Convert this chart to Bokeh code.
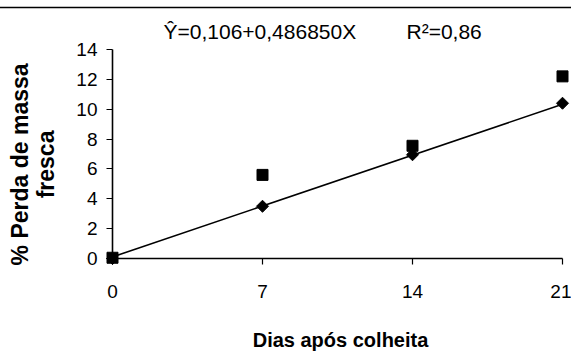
import math
from bokeh.plotting import figure
from bokeh.models import Range1d, FixedTicker
from bokeh.core.properties import value
from bokeh.embed import file_html
from bokeh.resources import INLINE

# ---- data ----
days = [0, 7, 14, 21]
diamond_vals = [0.0, 3.5, 6.95, 10.4]
square_vals = [0.05, 5.6, 7.55, 12.2]
fit_x = [0, 21]
fit_y = [0.106, 10.33]
x_ticks = [0, 7, 14, 21]
y_ticks = [0, 2, 4, 6, 8, 10, 12, 14]
equation = "Ŷ=0,106+0,486850X"
r2_text = "R²=0,86"
x_title = "Dias após colheita"
y_title_lines = ["% Perda de massa", "fresca"]

FONT = "Liberation Sans"
W, H = 571, 352

p = figure(width=W, height=H, x_range=Range1d(0, 21), y_range=Range1d(0, 14),
           output_backend="svg", toolbar_location=None,
           min_border_left=112, min_border_right=9, min_border_top=49, min_border_bottom=94)
p.grid.visible = False
p.outline_line_color = None
p.background_fill_color = "white"
p.border_fill_color = "white"

for ax in (p.xaxis[0], p.yaxis[0]):
    ax.axis_line_color = "black"
    ax.axis_line_width = 1.6
    ax.major_tick_line_color = "black"
    ax.major_tick_line_width = 1.2
    ax.major_tick_in = 0
    ax.major_tick_out = 6
    ax.minor_tick_line_color = None
    ax.major_label_text_font = FONT
    ax.major_label_text_font_size = "19px"
    ax.major_label_text_color = "black"

p.xaxis[0].ticker = FixedTicker(ticks=x_ticks)
p.yaxis[0].ticker = FixedTicker(ticks=y_ticks)
p.xaxis[0].major_label_standoff = 20
p.yaxis[0].major_label_standoff = 9

# rule across the top of the picture
p.segment(x0=[-5.3], y0=[16.81], x1=[21.5], y1=[16.81], line_color="black",
          line_width=1.5, level="overlay")

# regression line and points
p.line(fit_x, fit_y, line_color="black", line_width=1.6, level="overlay")
p.scatter(days, square_vals, marker="square", size=11, fill_color="black",
          line_color="black", level="overlay")
p.scatter(days, diamond_vals, marker="square", angle=math.pi / 4, size=8.5,
          fill_color="black", line_color="black", level="overlay")

# equation texts above the plot area
p.text(x=[2.38, 13.72], y=[15.23, 15.23], text=[equation, r2_text], text_font=value(FONT),
       text_font_size="21px", text_color="black", text_baseline="middle",
       text_align="left", level="overlay")

# axis titles
p.text(x=[10.64], y=[-5.43], text=[x_title], text_font=value(FONT),
       text_font_style="bold", text_font_size="20px", text_color="black",
       text_baseline="middle", text_align="center", level="overlay")
p.text(x=[-4.32, -3.10], y=[6.3, 6.3], text=y_title_lines, text_font=value(FONT),
       text_font_style="bold", text_font_size="23px", text_color="black",
       text_baseline="middle", text_align="center", angle=math.pi / 2,
       level="overlay")

open("out.html", "w").write(file_html(p, INLINE))
